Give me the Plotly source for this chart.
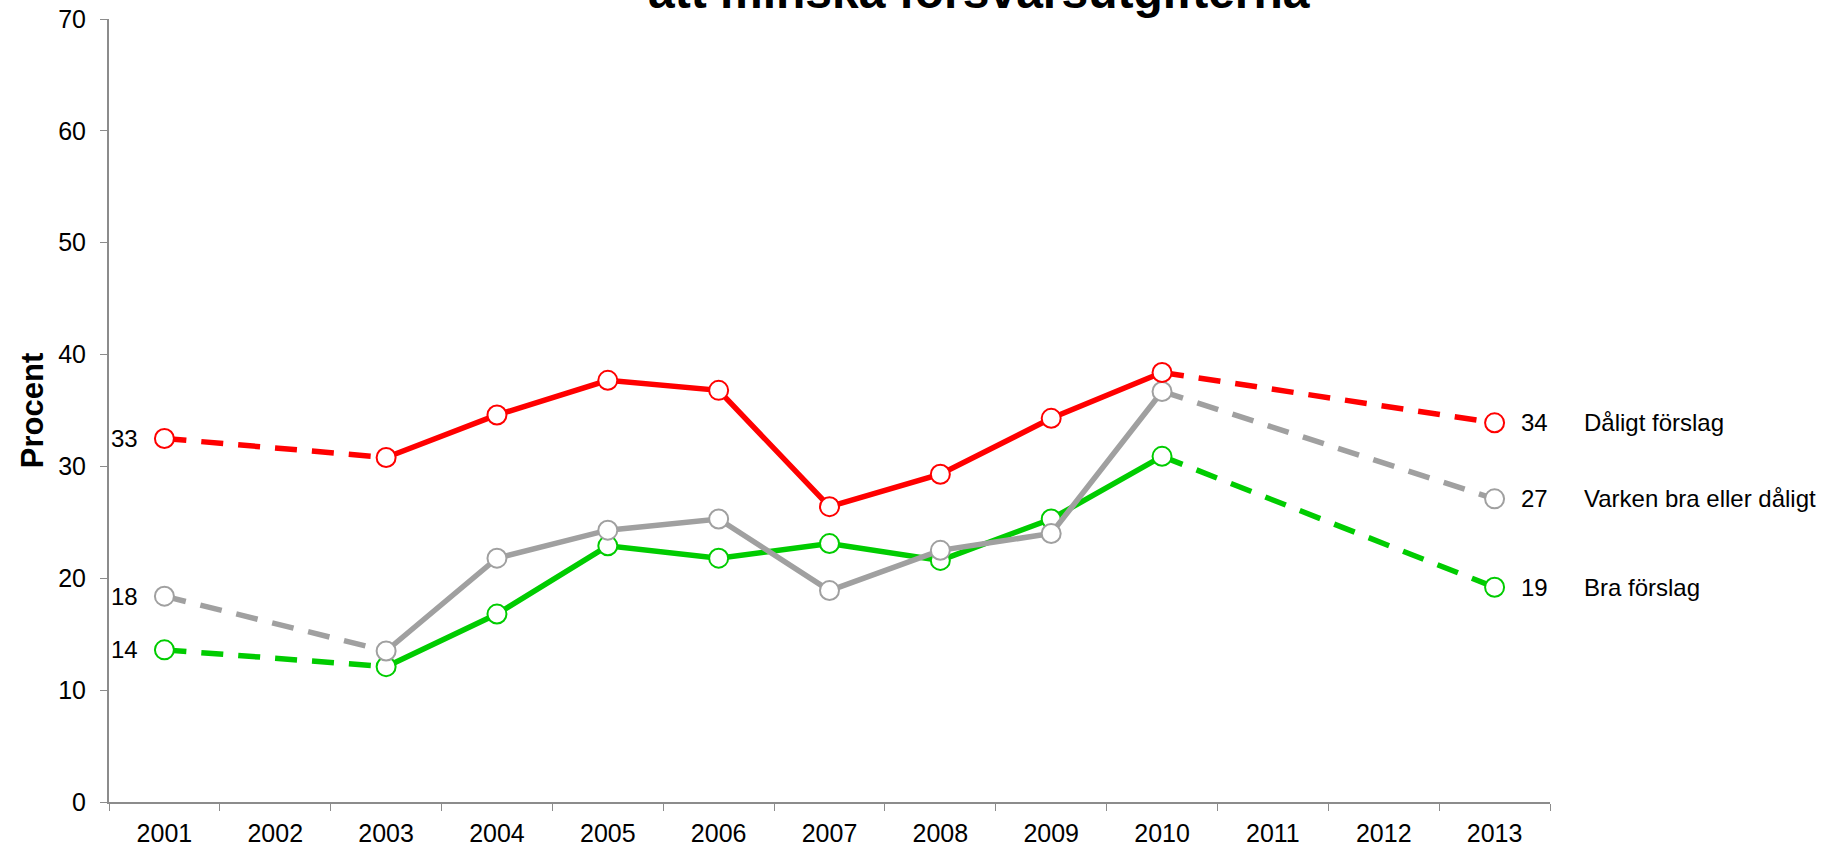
import plotly.graph_objects as go

years = ["2001", "2002", "2003", "2004", "2005", "2006", "2007",
         "2008", "2009", "2010", "2011", "2012", "2013"]
daligt = [32.5, None, 30.8, 34.6, 37.7, 36.8, 26.4, 29.3, 34.3, 38.4, None, None, 33.9]
varken = [18.4, None, 13.5, 21.8, 24.3, 25.3, 18.9, 22.5, 24.0, 36.7, None, None, 27.1]
bra = [13.6, None, 12.1, 16.8, 22.9, 21.8, 23.1, 21.6, 25.3, 30.9, None, None, 19.2]
left_labels = ["33", "18", "14"]
right_labels = ["34", "27", "19"]
names = ["Dåligt förslag", "Varken bra eller dåligt", "Bra förslag"]
title_text = "att minska försvarsutgifterna"

colors = ["#FF0000", "#A0A0A0", "#00CC00"]
series = [daligt, varken, bra]

fig = go.Figure()
FONT = "Liberation Sans, Arial, sans-serif"
LW = 5.5
DASH = "22px,15px"

order = [2, 1, 0]
for i in order:
    vals = series[i]
    c = colors[i]
    idx = [k for k, v in enumerate(vals) if v is not None]
    first, second = idx[0], idx[1]
    before_last, last = idx[-2], idx[-1]
    fig.add_trace(go.Scatter(
        x=[years[first], years[second]], y=[vals[first], vals[second]],
        mode="lines", line=dict(color=c, width=LW, dash=DASH),
        showlegend=False, hoverinfo="skip"))
    fig.add_trace(go.Scatter(
        x=[years[before_last], years[last]], y=[vals[before_last], vals[last]],
        mode="lines", line=dict(color=c, width=LW, dash=DASH),
        showlegend=False, hoverinfo="skip"))
    mid = idx[1:-1]
    fig.add_trace(go.Scatter(
        x=[years[k] for k in mid], y=[vals[k] for k in mid],
        mode="lines", line=dict(color=c, width=LW),
        showlegend=False, hoverinfo="skip"))
    fig.add_trace(go.Scatter(
        x=[years[k] for k in idx], y=[vals[k] for k in idx],
        mode="markers",
        marker=dict(symbol="circle", size=19, color="white",
                    line=dict(color=c, width=2)),
        showlegend=False, hoverinfo="skip"))

n = len(years)
LF = 24
for i in range(3):
    vals = series[i]
    fig.add_annotation(x=0, y=vals[0], text=left_labels[i],
                       showarrow=False, xanchor="right", yanchor="middle",
                       xshift=-24, font=dict(size=LF, color="black", family=FONT))
    fig.add_annotation(x=n - 1, y=vals[-1], text=right_labels[i],
                       showarrow=False, xanchor="left", yanchor="middle",
                       xshift=24, font=dict(size=LF, color="black", family=FONT))
    fig.add_annotation(x=n - 1, y=vals[-1], text=names[i],
                       showarrow=False, xanchor="left", yanchor="middle",
                       xshift=87, font=dict(size=LF, color="black", family=FONT))

fig.add_annotation(xref="paper", yref="paper", x=0.604, y=1, text="<b>" + title_text + "</b>",
                   showarrow=False, xanchor="center", yanchor="middle", yshift=28,
                   font=dict(size=48, color="black", family=FONT))

fig.update_layout(
    width=1827, height=847,
    margin=dict(l=109, r=277, t=19, b=45, autoexpand=False),
    paper_bgcolor="white", plot_bgcolor="white",
    font=dict(family=FONT, color="black"),
    xaxis=dict(type="category", categoryorder="array", categoryarray=years,
               range=[-0.5, 12.5], showgrid=False, showline=True, automargin=False,
               linecolor="#8C8C8C", linewidth=2, ticks="outside",
               tickson="boundaries", ticklen=7, tickcolor="#8C8C8C",
               ticklabelstandoff=8,
               tickfont=dict(size=25, family=FONT), zeroline=False),
    yaxis=dict(range=[0, 70], dtick=10, showgrid=False, showline=True, automargin=False,
               linecolor="#8C8C8C", linewidth=2, ticks="outside", ticklen=7,
               tickcolor="#8C8C8C", tickfont=dict(size=25, family=FONT),
               ticklabelstandoff=9,
               zeroline=False,
               title=dict(text="<b>Procent</b>", font=dict(size=31, family=FONT),
                          standoff=5)),
)

fig.write_html("out.html", config={"displayModeBar": False},
               post_script="document.body.style.margin='0px';document.body.style.overflow='hidden';")
